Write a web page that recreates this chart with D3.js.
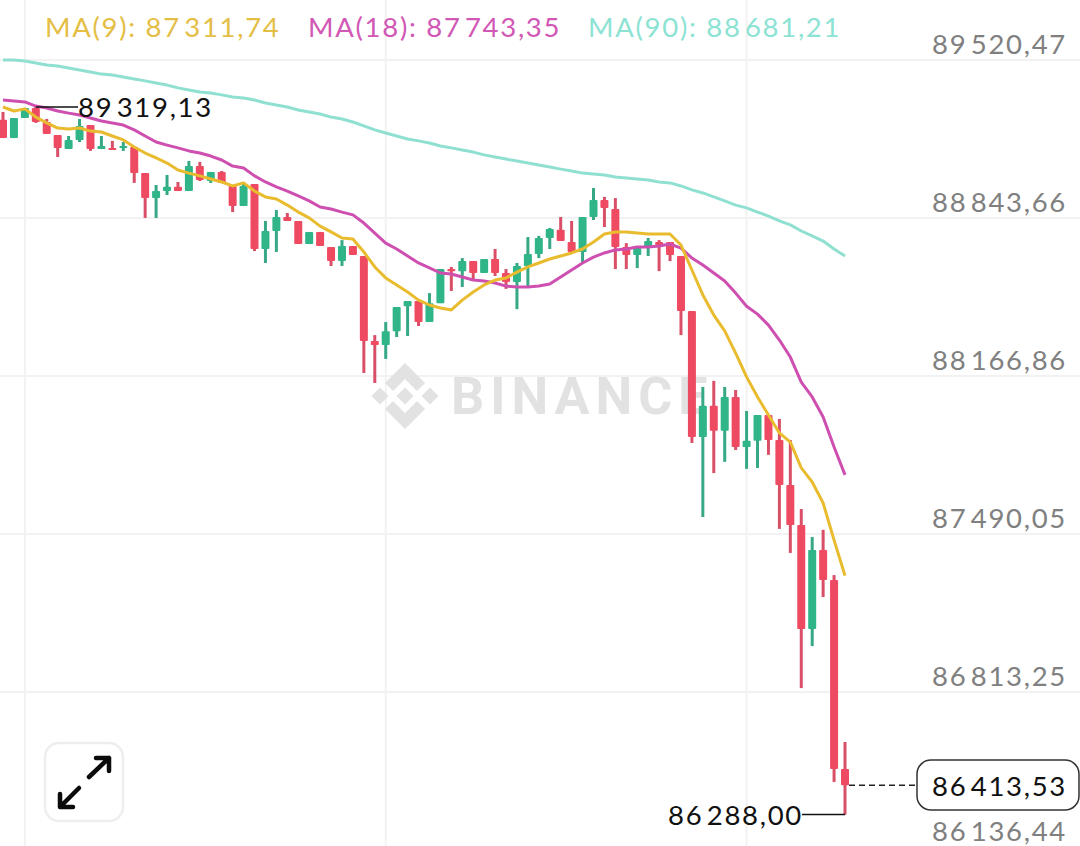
<!DOCTYPE html>
<html>
<meta charset="utf-8">
<script src="https://cdn.jsdelivr.net/npm/d3@7"></script>
<style>
html, body { margin: 0; padding: 0; background: #fff; }
svg { display: block; }
text { font-family: Lato, "Noto Sans", sans-serif; font-size: 27.5px; letter-spacing: 1.7px; }
</style>
<body>
<svg id="chart" width="1080" height="846"></svg>
<script>
// price axis
const tick_values = [89520.47, 88843.66, 88166.86, 87490.05, 86813.25, 86136.44];
const last_price = 86413.53;
const high_price = 89319.13;
const low_price = 86288.00;
const ma9_last = 87311.74;
const ma18_last = 87743.35;
const ma90_last = 88681.21;
// candle index where the time grid lines sit
const time_ticks = [2, 35, 68];

// candles
const highs = [89298,89272,89315,89319.13,89268,89199,89195,89268,89242,89195,89174,89169,89148,89036,88985,89028,88998,89088,89084,89041,89045,88981,88998,88989,88831,88878,88865,88831,88784,88784,88719,88749,88724,88681,88342,88398,88462,88488,88488,88522,88625,88634,88672,88659,88668,88711,88625,88651,88762,88767,88801,88848,88831,88848,88972,88934,88929,88736,88715,88758,88749,88741,88681,88445,88120,88146,88120,88107,88017,88000,88000,87983,87893,87597,87477,87508,87314,86599];
const opens = [89264,89186,89272,89315,89255,89199,89139,89178,89242,89139,89144,89144,89148,89036,88929,88959,88977,88959,89066,89002,89041,88981,88895,88989,88711,88788,88848,88831,88732,88784,88719,88659,88724,88681,88317,88300,88359,88466,88488,88398,88479,88625,88616,88659,88608,88668,88608,88570,88638,88689,88758,88793,88741,88698,88848,88921,88882,88719,88685,88719,88741,88741,88681,88445,87906,88039,87932,88077,87863,87889,88000,87893,87700,87529,87083,87421,87293,86483];
const closes = [89186,89272,89315,89255,89204,89144,89178,89238,89139,89152,89135,89152,89036,88929,88959,88977,88959,89066,89006,89041,88994,88895,88981,88711,88788,88848,88831,88732,88784,88724,88659,88724,88685,88317,88300,88359,88462,88488,88398,88479,88625,88616,88659,88608,88668,88608,88570,88638,88689,88758,88797,88745,88698,88848,88921,88887,88719,88685,88715,88745,88728,88685,88445,87906,88039,87932,88077,87863,87889,88000,87893,87700,87529,87083,87421,87293,86483,86413.53];
const lows = [89186,89186,89272,89251,89204,89105,89139,89169,89131,89139,89135,89131,88994,88844,88844,88942,88959,88959,89002,88994,88994,88869,88895,88702,88651,88698,88831,88732,88732,88724,88638,88638,88685,88180,88137,88240,88334,88338,88381,88398,88479,88531,88548,88578,88608,88595,88540,88453,88548,88672,88711,88745,88698,88651,88835,88805,88625,88625,88629,88681,88616,88659,88342,87880,87563,87751,87799,87850,87769,87773,87829,87512,87409,86830,87010,87220,86428,86288];

// moving averages
const ma9 = [89319,89302,89311,89276,89251,89229,89225,89229,89216,89212,89195,89178,89148,89122,89101,89079,89049,89036,89024,89011,88998,88981,88994,88959,88934,88925,88899,88869,88844,88809,88784,88758,88754,88698,88634,88587,88557,88527,88492,88471,88458,88450,88492,88527,88557,88578,88587,88612,88634,88651,88668,88681,88694,88711,88741,88775,88784,88784,88779,88775,88775,88775,88728,88621,88514,88428,88360,88265,88163,88077,88000,87923,87884,87773,87713,87623,87464,87311.74];
const ma18 = [89349,89345,89341,89323,89315,89302,89293,89285,89272,89259,89251,89242,89221,89195,89169,89156,89144,89131,89122,89109,89092,89066,89058,89024,88998,88977,88959,88938,88917,88891,88882,88869,88857,88822,88779,88736,88711,88681,88651,88630,88608,88604,88591,88578,88574,88565,88552,88548,88548,88552,88561,88591,88621,88651,88676,88694,88707,88711,88719,88719,88724,88732,88715,88672,88642,88608,88574,88522,88466,88432,88385,88321,88248,88141,88077,87991,87863,87743.35];
const ma90 = [89520,89520,89516,89508,89499,89495,89486,89478,89469,89460,89456,89448,89439,89431,89422,89413,89401,89392,89383,89379,89371,89362,89358,89349,89336,89328,89319,89306,89298,89289,89276,89268,89255,89238,89221,89208,89195,89182,89174,89165,89152,89144,89135,89126,89114,89105,89096,89088,89079,89071,89062,89053,89045,89036,89032,89028,89019,89015,89011,89006,88998,88994,88981,88964,88951,88934,88917,88899,88887,88869,88852,88831,88814,88788,88767,88745,88711,88681.21];

const svg = d3.select("#chart");
const width = 1080, height = 846;

const x = d3.scaleLinear().domain([0, closes.length - 1]).range([3, 845]);
const y = d3.scaleLinear().domain([86136.44, 89520.47]).range([850, 60]);

const fmt = d3.formatLocale({decimal: ",", thousands: "\u200A", grouping: [3], currency: ["", ""]}).format(",.2f");

const red = "#EE4B62", green = "#2FB587", grid = "#F2F2F2", label_grey = "#808080";

// grid
svg.append("g").selectAll("line").data(tick_values).join("line")
	.attr("x1", 0).attr("x2", width)
	.attr("y1", d => y(d)).attr("y2", d => y(d))
	.attr("stroke", grid).attr("stroke-width", 2);
svg.append("g").selectAll("line").data(time_ticks).join("line")
	.attr("x1", d => x(d)).attr("x2", d => x(d))
	.attr("y1", 0).attr("y2", height)
	.attr("stroke", grid).attr("stroke-width", 2);

// watermark
const logo = svg.append("g").attr("fill", "#E2E2E2").attr("transform", "translate(405,396)");
logo.append("path").attr("d", "M0,-33 L20,-13 L12,-5 L0,-17 L-12,-5 L-20,-13 Z");
logo.append("path").attr("d", "M0,33 L20,13 L12,5 L0,17 L-12,5 L-20,13 Z");
logo.selectAll("rect").data([[-25, 0], [0, 0], [25, 0]]).join("rect")
	.attr("x", -6).attr("y", -6).attr("width", 12).attr("height", 12)
	.attr("transform", d => "translate(" + d[0] + "," + d[1] + ") rotate(45)");
svg.append("text").text("BINANCE")
	.attr("x", 451).attr("y", 414)
	.attr("fill", "#E2E2E2")
	.style("font-family", "Roboto")
	.style("font-weight", 700)
	.style("font-size", "52px")
	.style("letter-spacing", "6px");

// candles
const candles = d3.range(closes.length);
const color = i => closes[i] < opens[i] ? red : green;
svg.append("g").selectAll("line").data(candles).join("line")
	.attr("x1", i => x(i)).attr("x2", i => x(i))
	.attr("y1", i => y(highs[i])).attr("y2", i => y(lows[i]))
	.attr("stroke", i => closes[i] < opens[i] ? "#DA4F68" : "#36A886")
	.attr("stroke-width", 3);
svg.append("g").selectAll("rect").data(candles).join("rect")
	.attr("x", i => x(i) - 4)
	.attr("width", 8)
	.attr("y", i => y(Math.max(opens[i], closes[i])))
	.attr("height", i => Math.max(2, Math.abs(y(opens[i]) - y(closes[i]))))
	.attr("rx", 1)
	.attr("fill", color);

// moving average lines
const line = d3.line().x((d, i) => x(i)).y(d => y(d));
[[ma90, "#8FE0D1"], [ma18, "#CE4FB0"], [ma9, "#E9BB2E"]].forEach(function(s){
	svg.append("path").datum(s[0])
		.attr("fill", "none")
		.attr("stroke", s[1])
		.attr("stroke-width", 3)
		.attr("stroke-linejoin", "round")
		.attr("d", line);
});

// legend
const legend = [
	["MA(9): " + fmt(ma9_last), 45, "#E4BE45"],
	["MA(18): " + fmt(ma18_last), 308, "#D158B4"],
	["MA(90): " + fmt(ma90_last), 588, "#8DE3D3"]
];
svg.append("g").selectAll("text").data(legend).join("text")
	.text(d => d[0])
	.attr("x", d => d[1]).attr("y", 37)
	.attr("fill", d => d[2]);

// price labels
svg.append("g").selectAll("text").data(tick_values).join("text")
	.text(d => fmt(d))
	.attr("x", 1067).attr("y", d => Math.min(y(d) - 6, 841))
	.attr("text-anchor", "end")
	.attr("fill", label_grey);

// high and low marks
svg.append("line")
	.attr("x1", x(3)).attr("x2", 78)
	.attr("y1", y(high_price)).attr("y2", y(high_price))
	.attr("stroke", "#111").attr("stroke-width", 1.5);
svg.append("text").text(fmt(high_price))
	.attr("x", 78).attr("y", y(high_price) + 10)
	.attr("fill", "#111");
svg.append("line")
	.attr("x1", 802).attr("x2", x(77))
	.attr("y1", y(low_price)).attr("y2", y(low_price))
	.attr("stroke", "#111").attr("stroke-width", 1.5);
svg.append("text").text(fmt(low_price))
	.attr("x", 803).attr("y", y(low_price) + 10)
	.attr("text-anchor", "end")
	.attr("fill", "#111");

// last price tag
svg.append("line")
	.attr("x1", x(77) + 4).attr("x2", 917)
	.attr("y1", y(last_price)).attr("y2", y(last_price))
	.attr("stroke", "#222").attr("stroke-width", 1.5)
	.attr("stroke-dasharray", "6,4");
svg.append("rect")
	.attr("x", 917).attr("y", 760).attr("width", 162).attr("height", 50).attr("rx", 14)
	.attr("fill", "#fff").attr("stroke", "#333").attr("stroke-width", 1.5);
svg.append("text").text(fmt(last_price))
	.attr("x", 1067).attr("y", 796)
	.attr("text-anchor", "end")
	.attr("fill", "#111");

// expand button
svg.append("rect")
	.attr("x", 45).attr("y", 743).attr("width", 78).attr("height", 78).attr("rx", 14)
	.attr("fill", "#fff").attr("stroke", "#EEEEEE").attr("stroke-width", 2.5);
const icon = svg.append("g").attr("fill", "none").attr("stroke", "#0b0b0b")
	.attr("stroke-width", 4.5).attr("stroke-linecap", "round").attr("stroke-linejoin", "round");
icon.append("path").attr("d", "M89,777 L109,758 M96,758 L109,758 L109,771");
icon.append("path").attr("d", "M79,788 L60,807 M60,794 L60,807 L73,807");
</script>
</body>
</html>
